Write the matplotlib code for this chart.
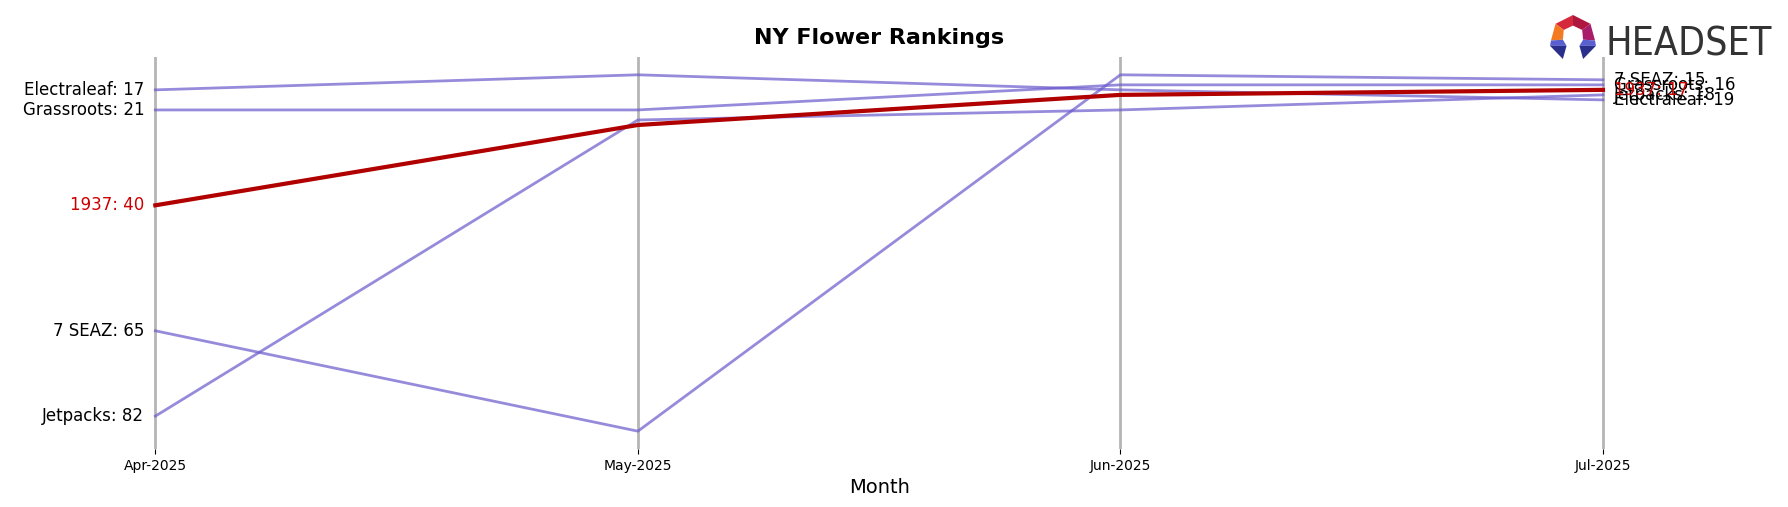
import matplotlib
matplotlib.use('Agg')
import matplotlib.pyplot as plt
from matplotlib.patches import Polygon

# data
months = ['Apr-2025', 'May-2025', 'Jun-2025', 'Jul-2025']
electraleaf = [17, 14, 17, 19]
grassroots = [21, 21, 16, 16]
rank_1937 = [40, 24, 18, 17]
seven_seaz = [65, 85, 14, 15]
jetpacks = [82, 23, 21, 18]

brands = ['Electraleaf', 'Grassroots', '7 SEAZ', 'Jetpacks', '1937']
ranks = [electraleaf, grassroots, seven_seaz, jetpacks, rank_1937]
highlight = '1937'

PURPLE = '#6A5ACD'
RED = '#b00000'
RED_TXT = '#cc0000'

fig = plt.figure(figsize=(17.88, 5.07), dpi=100)
ax = fig.add_axes([0.0464, 0.1144, 0.8906, 0.7732])

x = list(range(len(months)))
for name, r in zip(brands, ranks):
    if name == highlight:
        ax.plot(x, r, color=RED, linewidth=3, zorder=4)
        tcol = RED_TXT
    else:
        ax.plot(x, r, color=PURPLE, linewidth=2, alpha=0.7, zorder=3)
        tcol = 'black'
    # labels at first and last month
    ax.annotate(f'{name}: {r[0]}', xy=(x[0], r[0]), xytext=(-8, 0),
                textcoords='offset points', ha='right', va='center',
                fontsize=12, color=tcol)
    ax.annotate(f'{name}: {r[-1]}', xy=(x[-1], r[-1]), xytext=(8, 0),
                textcoords='offset points', ha='left', va='center',
                fontsize=12, color=tcol)

ax.invert_yaxis()
ax.set_yticks([])
ax.set_xticks(x)
ax.set_xticklabels(months, fontsize=10)
ax.grid(axis='x', color='#b5b5b5', linewidth=2)
ax.set_axisbelow(True)
for s in ax.spines.values():
    s.set_visible(False)
ax.set_xlabel('Month', fontsize=14)
ax.set_title('NY Flower Rankings', fontsize=16, fontweight='bold', pad=9)

# headset logo (icon + wordmark)
lax = fig.add_axes([0.8669, 0.8836, 0.0257, 0.0868])
lax.set_xlim(0, 1)
lax.set_ylim(0, 1)
lax.axis('off')
pieces = [
    ([(0.5, 1.0), (0.12, 0.80), (0.30, 0.66), (0.5, 0.76)], '#d42a3c'),
    ([(0.5, 1.0), (0.88, 0.80), (0.70, 0.66), (0.5, 0.76)], '#b0173f'),
    ([(0.12, 0.80), (0.02, 0.42), (0.28, 0.44), (0.30, 0.66)], '#f47a22'),
    ([(0.88, 0.80), (0.98, 0.42), (0.72, 0.44), (0.70, 0.66)], '#a81c6a'),
    ([(0.02, 0.42), (0.28, 0.44), (0.36, 0.30), (0.0, 0.30)], '#5a5fd0'),
    ([(0.98, 0.42), (0.72, 0.44), (0.64, 0.30), (1.0, 0.30)], '#5a5fd0'),
    ([(0.0, 0.30), (0.36, 0.30), (0.28, 0.0)], '#2b2f8c'),
    ([(1.0, 0.30), (0.64, 0.30), (0.72, 0.0)], '#2b2f8c'),
]
for pts, c in pieces:
    lax.add_patch(Polygon(pts, closed=True, color=c, linewidth=0))

logo = fig.text(0.8982, 0.8915, 'HEADSET', fontsize=30, color='#333333',
                family='DejaVu Sans', stretch='condensed',
                ha='left', va='baseline')
# shrink the wordmark so it spans about 166 px like the original
rend = fig.canvas.get_renderer()
w = logo.get_window_extent(renderer=rend).width
logo.set_fontsize(30 * 166 / w)

fig.savefig('out.png', dpi=100)
